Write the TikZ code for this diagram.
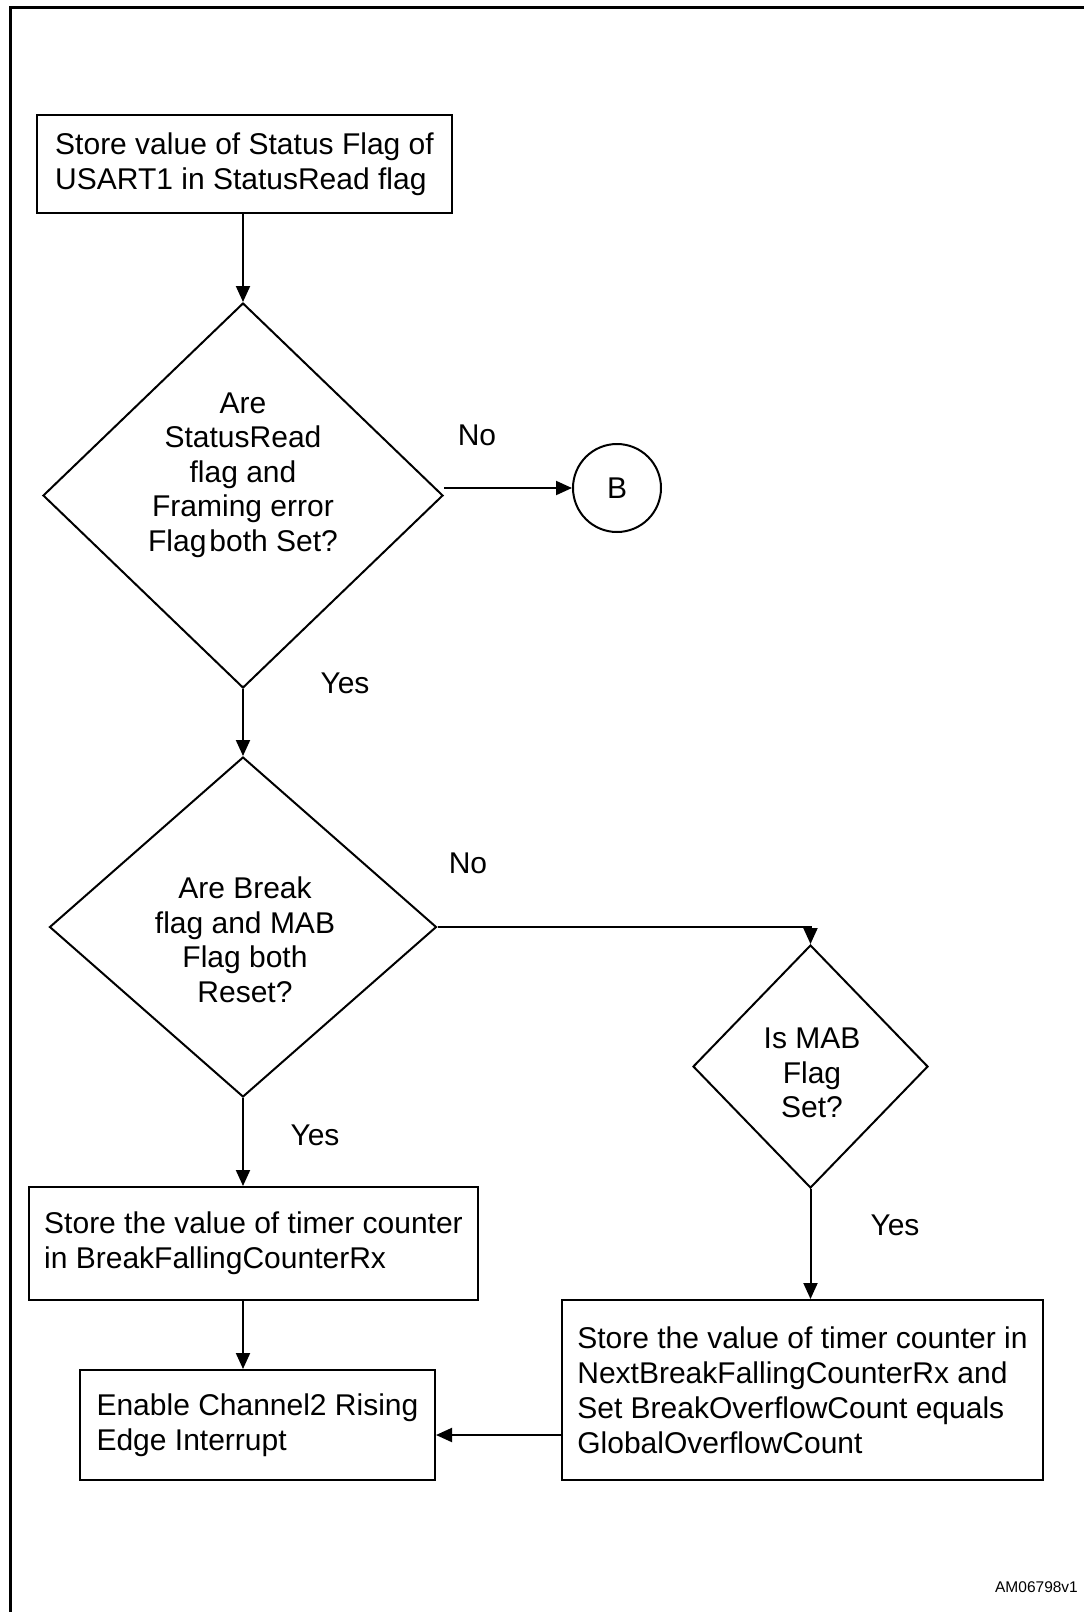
\documentclass[tikz,border=0pt]{standalone}
\usepackage{fontspec}
\setmainfont{Liberation Sans}
\usetikzlibrary{shapes.geometric,arrows.meta}
\begin{document}
\begin{tikzpicture}[x=1pt,y=-1pt,
  every node/.style={font=\fontsize{30pt}{35pt}\selectfont},
  line width=2pt,
  arr/.style={-{Triangle[length=16pt,width=14pt]}},
  box/.style={draw,rectangle,align=left,inner sep=0pt},
  dia/.style={draw,diamond,inner sep=0pt},
  lbl/.style={align=center,inner sep=0pt},
  dtext/.style={align=center,inner sep=0pt,font=\fontsize{30pt}{34.5pt}\selectfont},
]
\useasboundingbox (0,0) rectangle (1084,1612);
\draw[line width=3pt] (10,1612) -- (10,7) -- (1084,7);

\node[box,minimum width=415pt,minimum height=98pt] (b1) at (244.5,164)
  {Store value of Status Flag of\\USART1 in StatusRead flag};

\node[dia,minimum width=400pt,minimum height=385pt] (d1) at (243,495.5) {};
\node[dtext] (t1) at (243,475) {Are\\StatusRead\\flag and\\Framing error\\Flag\hspace{3pt}both Set?};

\node[draw,circle,minimum size=88pt,inner sep=0pt] (cb) at (617,488) {B};

\node[dia,minimum width=387pt,minimum height=340pt] (d2) at (243,927) {};
\node[dtext] (t2) at (245,940) {Are Break\\flag and MAB\\Flag both\\Reset?};

\node[dia,minimum width=235pt,minimum height=243pt] (d3) at (810.5,1066.5) {};
\node[dtext] (t3) at (812,1073) {Is MAB\\Flag\\Set?};

\node[box,minimum width=449pt,minimum height=113pt] (b2) at (253.5,1243.5)
  {Store the value of timer counter\\in BreakFallingCounterRx};

\node[box,minimum width=355pt,minimum height=110pt] (b3) at (257.5,1425)
  {Enable Channel2 Rising\\Edge Interrupt};

\node[box,minimum width=481pt,minimum height=180pt] (b4) at (802.5,1390)
  {Store the value of timer counter in\\NextBreakFallingCounterRx and\\Set BreakOverflowCount equals\\GlobalOverflowCount};

\node[lbl] (no1) at (477,435) {No};
\node[lbl] (yes1) at (345,683) {Yes};
\node[lbl] (no2) at (468,863) {No};
\node[lbl] (yes2) at (315,1135) {Yes};
\node[lbl] (yes3) at (895,1225) {Yes};

\node[lbl,font=\fontsize{15.5pt}{18pt}\selectfont] (id) at (1036.5,1587) {AM06798v1};

\draw[arr] (b1.south -| d1.north) -- (d1.north);
\draw[arr] (cb.west -| d1.east) -- (cb.west);
\draw[arr] (d1.south) -- (d2.north);
\draw[arr] (d2.east) -| (d3.north);
\draw[arr] (d2.south) -- (d2.south |- b2.north);
\draw[arr] (d3.south) -- (d3.south |- b4.north);
\draw[arr] (b2.south -| d2.south) -- (b3.north -| d2.south);
\draw[arr] (b4.west |- 0,1435) -- (b3.east |- 0,1435);
\end{tikzpicture}
\end{document}
